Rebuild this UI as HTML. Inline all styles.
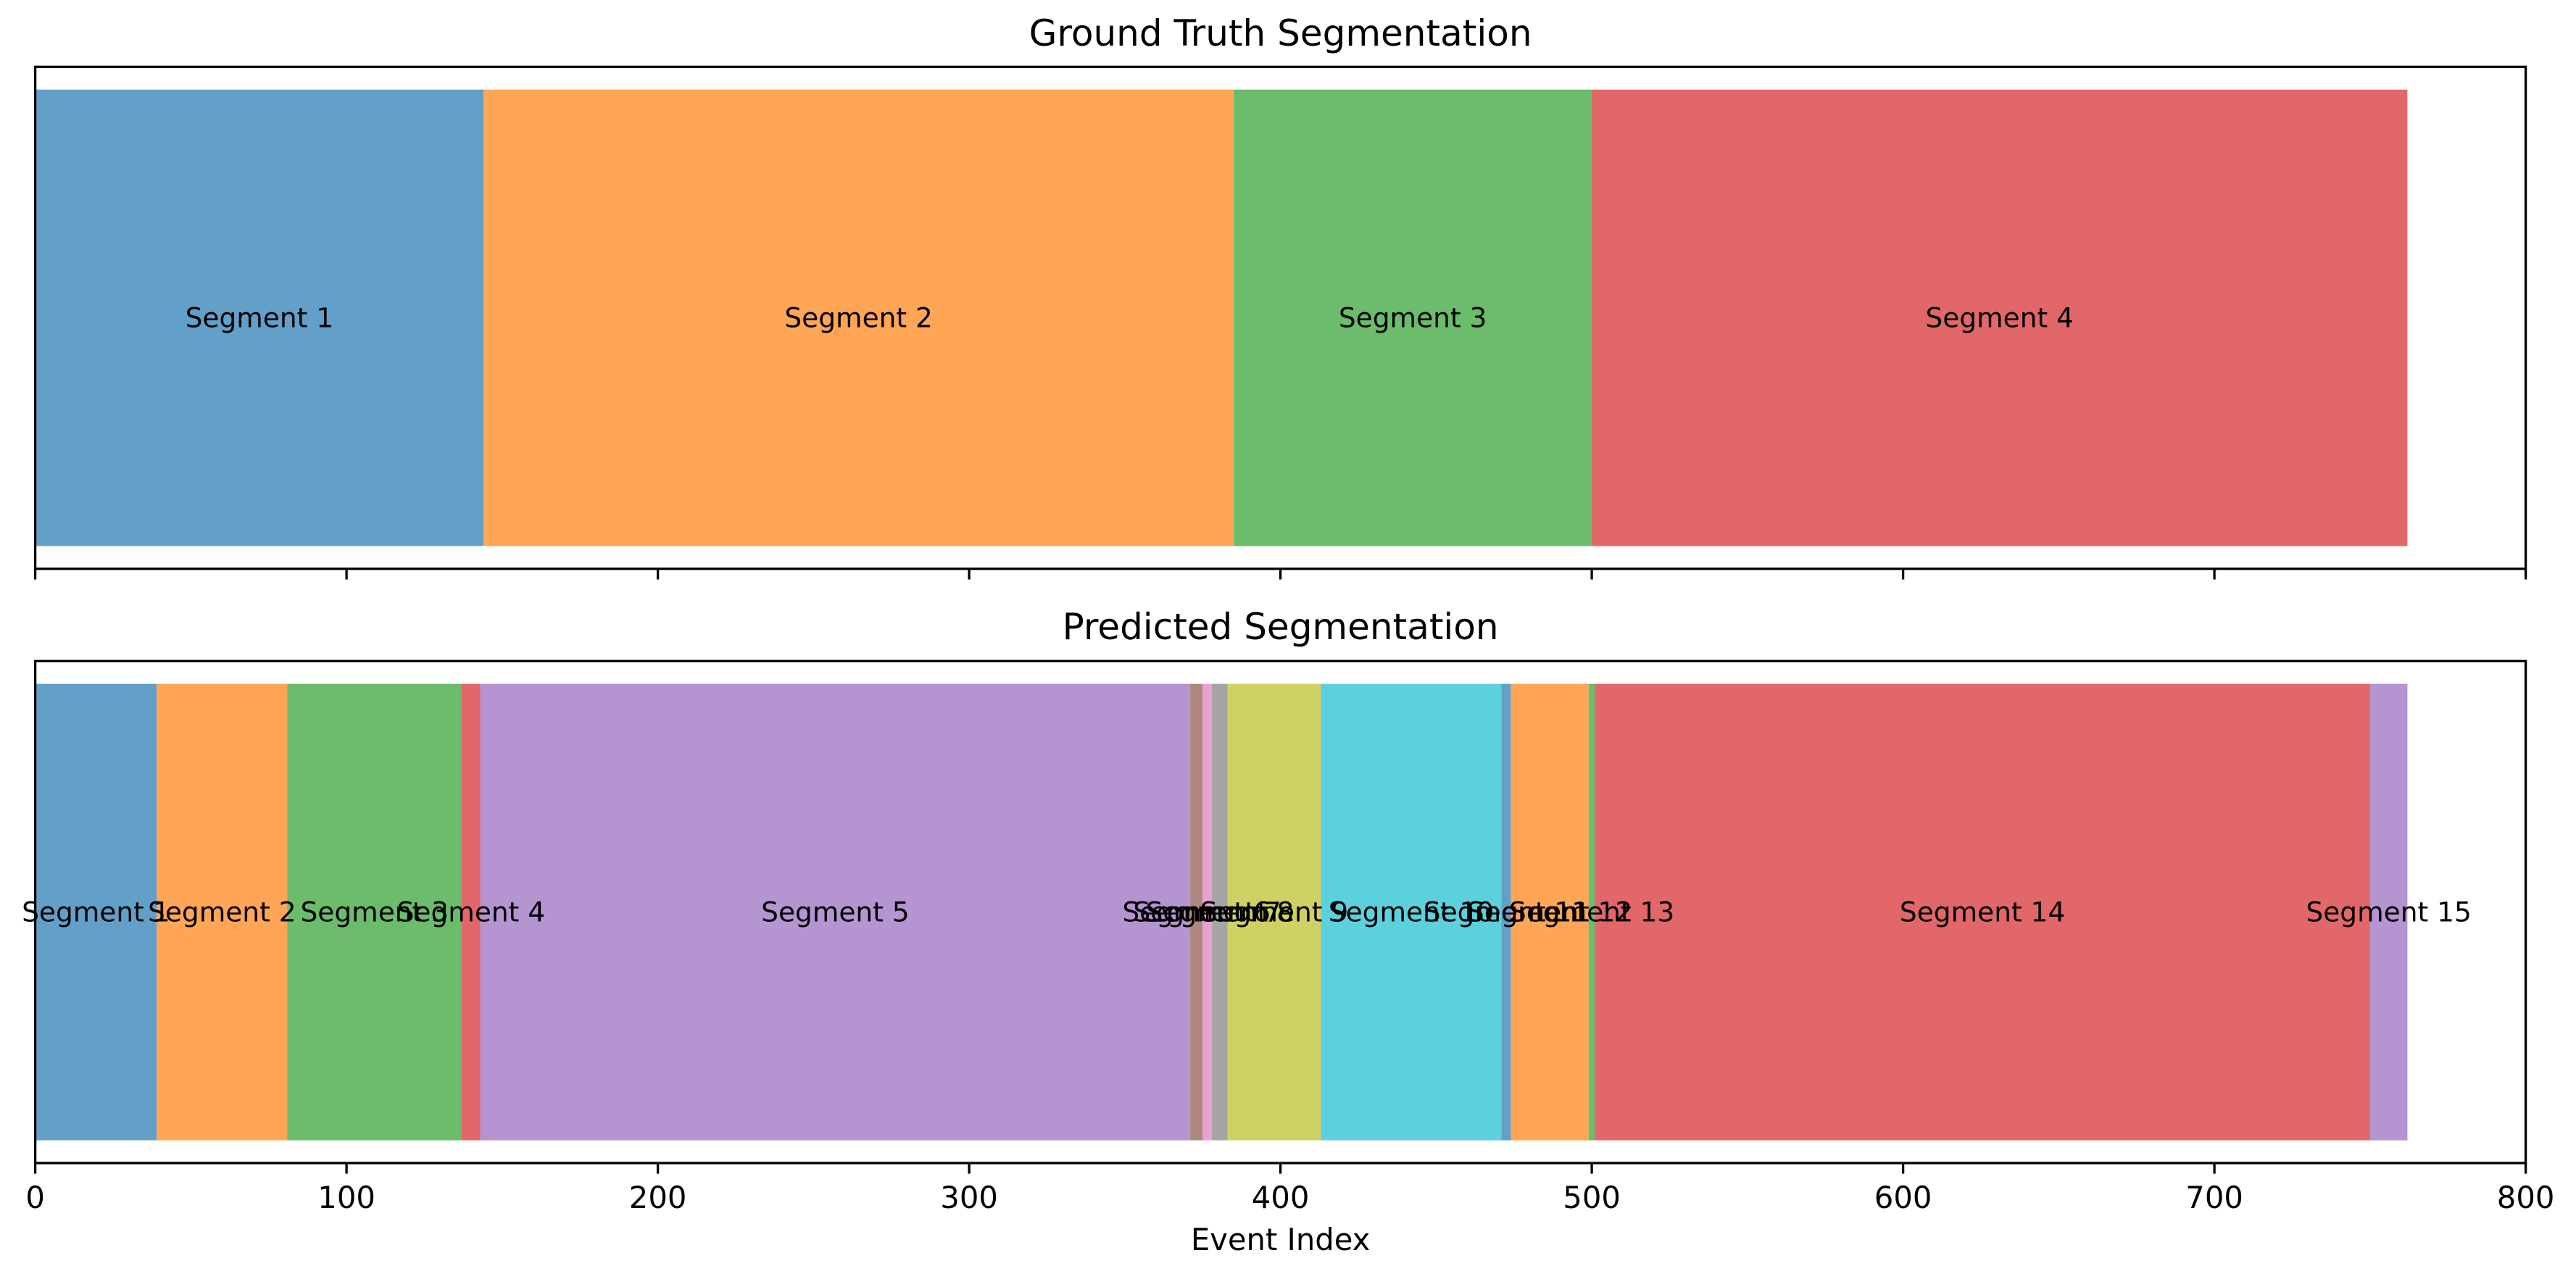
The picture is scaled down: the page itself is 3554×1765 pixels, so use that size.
<!DOCTYPE html>
<html><head><meta charset="utf-8"><style>
html,body{margin:0;padding:0;background:#fff;}
svg{display:block;font-family:"DejaVu Sans","Liberation Sans",sans-serif;}
</style></head><body>
<svg id="chart" width="3554" height="1765" viewBox="0 0 3554 1765" xmlns="http://www.w3.org/2000/svg"></svg>
<script>
const gtBounds = [0, 144, 385, 500, 762];
const predBounds = [0, 39, 81, 137, 143, 371, 375, 378, 383, 413, 471, 474, 499, 501, 750, 762];
const xTicks = [0, 100, 200, 300, 400, 500, 600, 700, 800];
const palette = ['#1f77b4','#ff7f0e','#2ca02c','#d62728','#9467bd','#8c564b','#e377c2','#7f7f7f','#bcbd22','#17becf'];

const NS = 'http://www.w3.org/2000/svg';
const svg = document.getElementById('chart');
const X0 = 48.6, X1 = 3484.6;
function xs(v){ return X0 + (v/800)*(X1-X0); }
function mk(tag, attrs, parent){
  const e = document.createElementNS(NS, tag);
  for (const k in attrs) e.setAttribute(k, attrs[k]);
  (parent||svg).appendChild(e);
  return e;
}
const panels = [
  {bounds: gtBounds, top: 92.3, bottom: 785, title: 'Ground Truth Segmentation', titleY: 63, name: 'ground-truth', labels: false},
  {bounds: predBounds, top: 912.3, bottom: 1605, title: 'Predicted Segmentation', titleY: 882, name: 'predicted', labels: true}
];
panels.forEach(p => {
  const g = mk('g', {});
  
  
  const h = p.bottom - p.top;
  const gap = h * 0.0453;
  const by0 = p.top + gap, by1 = p.bottom - gap;
  const cy = (p.top + p.bottom)/2;
  for (let i = 0; i < p.bounds.length - 1; i++) {
    const a = p.bounds[i], b = p.bounds[i+1];
    const r = mk('rect', {x: xs(a), y: by0, width: xs(b)-xs(a), height: by1-by0, fill: palette[i % 10], 'fill-opacity': 0.7}, g);
    
    
  }
  for (let i = 0; i < p.bounds.length - 1; i++) {
    const a = p.bounds[i], b = p.bounds[i+1];
    const t = mk('text', {x: xs((a+b)/2), y: cy + 13, 'text-anchor': 'middle', 'font-size': 37.5, fill: '#000'}, g);
    t.textContent = 'Segment ' + (i+1);
    
    
  }
  const fr = mk('rect', {x: X0, y: p.top, width: X1-X0, height: h, fill: 'none', stroke: '#000', 'stroke-width': 3.3}, g);
  
  
  const tt = mk('text', {x: (X0+X1)/2, y: p.titleY, 'text-anchor': 'middle', 'font-size': 50, fill: '#000'}, g);
  tt.textContent = p.title;
  
  
  xTicks.forEach(v => {
    const l = mk('line', {x1: xs(v), x2: xs(v), y1: p.bottom, y2: p.bottom + 14.6, stroke: '#000', 'stroke-width': 3.3}, g);
    
    
    if (p.labels) {
      const tl = mk('text', {x: xs(v), y: p.bottom + 62, 'text-anchor': 'middle', 'font-size': 41.7, fill: '#000'}, g);
      tl.textContent = String(v);
      
      
    }
  });
});
const xl = mk('text', {x: (X0+X1)/2, y: 1725, 'text-anchor': 'middle', 'font-size': 41.7, fill: '#000'});
xl.textContent = 'Event Index';


</script>
</body></html>
